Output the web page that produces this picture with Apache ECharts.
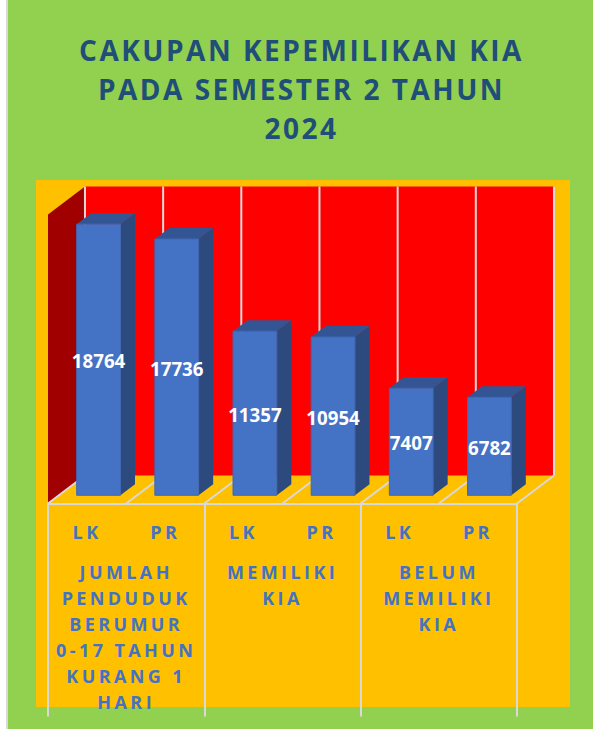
<!DOCTYPE html>
<html>
<head>
<meta charset="utf-8">
<style>
html,body{margin:0;padding:0;background:#fff;overflow:hidden}
#c{width:593px;height:729px}
text[style*="28px"]{letter-spacing:2.5px}
text[style*="18px"]{letter-spacing:3.4px}
</style>
<script src="https://cdn.jsdelivr.net/npm/echarts@6/dist/echarts.min.js"></script>
</head>
<body>
<div id="c"></div>
<script>
const titleText = 'CAKUPAN KEPEMILIKAN KIA\nPADA SEMESTER 2 TAHUN\n2024';
const genders = ['LK','PR','LK','PR','LK','PR'];
const groups = ['JUMLAH\nPENDUDUK\nBERUMUR\n0-17 TAHUN\nKURANG 1\nHARI','MEMILIKI\nKIA','BELUM\nMEMILIKI\nKIA'];
const values = [18764,17736,11357,10954,7407,6782];
const AXIS_MAX = 20000;

const GREY = '#D9D9D9', FONT = '"Open Sans"', LABEL = '#4472C4';
// wall depth and bar inset, relative to one category band
const DEPTH_X = 0.473, DEPTH_Y = 0.358, INSET_X = 0.147, INSET_Y = 0.105;
const BAR_W = 0.56, BAR_DX = 0.186, BAR_DY = 0.141;

function renderRoom(params, api){
  const band = api.size([1,0])[0];
  const dx = band*DEPTH_X, dy = band*DEPTH_Y;
  const p0 = api.coord([0,0]), pT = api.coord([0,AXIS_MAX]);
  const left = p0[0]-band/2, bottom = p0[1], top = pT[1];
  const right = left+band*genders.length;
  const ln = (x1,y1,x2,y2)=>({type:'line',shape:{x1,y1,x2,y2},style:{stroke:GREY,lineWidth:2,fill:null}});
  const kids = [
    {type:'rect',shape:{x:left+dx,y:top-dy,width:right-left,height:bottom-top},style:{fill:'#FF0000'}},
    {type:'polygon',shape:{points:[[left,top],[left+dx,top-dy],[left+dx,bottom-dy],[left,bottom]]},style:{fill:'#A00000'}}
  ];
  for(let i=0;i<=genders.length;i++){
    const x = left+band*i;
    kids.push(ln(x,bottom,x+dx,bottom-dy));
    if(i>0) kids.push(ln(x+dx,bottom-dy,x+dx,top-dy));
  }
  kids.push(ln(left+dx,bottom-dy,left+dx,top-dy));
  return {type:'group',children:kids};
}

function renderBar(params, api){
  const band = api.size([1,0])[0];
  const c = api.coord([api.value(0),api.value(1)]);
  const b = api.coord([api.value(0),0]);
  const w = band*BAR_W, sx = band*BAR_DX, sy = band*BAR_DY;
  const cx = c[0]+band*INSET_X, shift = band*INSET_Y;
  const x0 = cx-w/2, x1 = cx+w/2, yT = c[1]-shift, yB = b[1]-shift;
  return {type:'group',children:[
    {type:'polygon',shape:{points:[[x1,yT],[x1+sx,yT-sy],[x1+sx,yB-sy],[x1,yB]]},style:{fill:'#2C4A7E'}},
    {type:'polygon',shape:{points:[[x0,yT],[x0+sx,yT-sy],[x1+sx,yT-sy],[x1,yT]]},style:{fill:'#335593'}},
    {type:'rect',shape:{x:x0,y:yT,width:w,height:yB-yT},style:{fill:'#4472C4',stroke:'#3F68B5',lineWidth:1}},
    {type:'text',style:{text:String(api.value(1)),x:cx,y:(yT+yB)/2+1,align:'center',verticalAlign:'middle',fill:'#FFFFFF',font:'bold 18.7px '+FONT}}
  ]};
}

const chart = echarts.init(document.getElementById('c'),null,{renderer:'svg'});
chart.setOption({
  animation:false,
  backgroundColor:'#FFFFFF',
  title:{text:titleText,left:296.5,top:25,textAlign:'center',
    textStyle:{color:'#1F4E79',fontFamily:FONT,fontWeight:'bold',fontSize:28,lineHeight:39}},
  graphic:[
    {type:'rect',z:-10,silent:true,shape:{x:6,y:0,width:2,height:729},style:{fill:'#D9D9D9'}},
    {type:'rect',z:-10,silent:true,shape:{x:8,y:0,width:585,height:729},style:{fill:'#92D050'}},
    {type:'rect',z:-9,silent:true,shape:{x:36,y:180,width:534,height:527},style:{fill:'#FFC000'}}
  ],
  grid:{left:48,top:214.5,width:469,height:289,containLabel:false,outerBoundsMode:'none'},
  xAxis:[
    {type:'category',data:genders,position:'bottom',z:5,
      axisLine:{show:true,lineStyle:{color:GREY,width:2}},axisTick:{show:false},
      axisLabel:{interval:0,margin:19,color:LABEL,fontFamily:FONT,fontWeight:'bold',fontSize:18,hideOverlap:false}},
    {type:'category',data:groups,position:'bottom',z:5,
      axisLine:{show:false},
      axisTick:{show:true,length:213,lineStyle:{color:GREY,width:2}},
      axisLabel:{interval:0,margin:55,color:LABEL,fontFamily:FONT,fontWeight:'bold',fontSize:18,lineHeight:26,align:'center',verticalAlign:'top',hideOverlap:false}}
  ],
  yAxis:{type:'value',min:0,max:AXIS_MAX,show:false},
  series:[
    {type:'custom',name:'room',xAxisIndex:0,z:1,silent:true,renderItem:renderRoom,data:[[0,AXIS_MAX]]},
    {type:'custom',name:'bars',xAxisIndex:0,z:3,renderItem:renderBar,encode:{x:0,y:1},data:values.map((v,i)=>[i,v])}
  ]
});
</script>
</body>
</html>
